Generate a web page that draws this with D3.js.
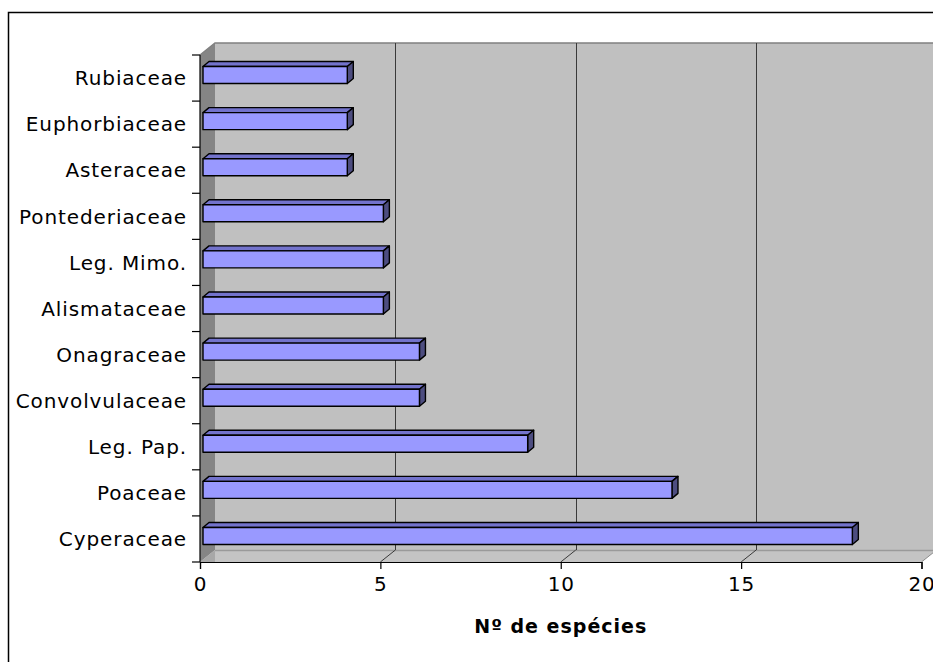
<!DOCTYPE html>
<html>
<head>
<meta charset="utf-8">
<script src="https://cdn.jsdelivr.net/npm/d3@7"></script>
<style>
  html, body { margin: 0; padding: 0; background: #fff; overflow: hidden; }
  svg { display: block; }
  text { font-family: "DejaVu Sans", Verdana, sans-serif; fill: #000; }
</style>
</head>
<body>
<svg id="chart" width="933" height="662"></svg>
<script>
// Families, listed bottom to top of the chart
const families = ["Cyperaceae", "Poaceae", "Leg. Pap.", "Convolvulaceae", "Onagraceae",
  "Alismataceae", "Leg. Mimo.", "Pontederiaceae", "Asteraceae", "Euphorbiaceae", "Rubiaceae"];
// Number of species per family
const species = [18, 13, 9, 6, 6, 5, 5, 5, 4, 4, 4];
// Value axis ticks
const xTicks = [0, 5, 10, 15, 20];
const xTitle = "Nº de espécies";

const svg = d3.select("#chart");

const x = d3.scaleLinear().domain([0, 20]).range([200, 921.5]);
const y = d3.scaleBand().domain(families.slice().reverse()).range([55, 562]).paddingInner(0).paddingOuter(0);

// wall depth offset and bar depth offset
const DX = 15, DY = -12;
const BX = 6, BY = -5;
const barH = 17;
const y0 = y.range()[0], y1 = y.range()[1];

// outer frame
svg.append("rect").attr("x", 8.5).attr("y", 12.5).attr("width", 1200).attr("height", 1200)
  .attr("fill", "none").attr("stroke", "#000").attr("stroke-width", 1.5);

// back wall
svg.append("rect").attr("x", x(0) + DX).attr("y", y0 + DY)
  .attr("width", x(20) - x(0) + 20).attr("height", y1 - y0)
  .attr("fill", "#c0c0c0");
// floor
svg.append("path")
  .attr("d", `M${x(0)},${y1} L${x(0) + DX},${y1 + DY} L${x(20) + DX},${y1 + DY} L${x(20)},${y1} Z`)
  .attr("fill", "#c4c4c4");
svg.append("line").attr("x1", x(0) + DX).attr("x2", x(20) + DX + 10)
  .attr("y1", y1 + DY + 0.5).attr("y2", y1 + DY + 0.5).attr("stroke", "#9a9a9a").attr("stroke-width", 1.5);
// side wall
svg.append("path")
  .attr("d", `M${x(0)},${y0} L${x(0) + DX},${y0 + DY} L${x(0) + DX},${y1 + DY} L${x(0)},${y1} Z`)
  .attr("fill", "#858585");
// floor corner under the side wall
svg.append("path")
  .attr("d", `M${x(0)},${y1} L${x(0) + DX},${y1 + DY} L${x(0) + DX},${y1} Z`)
  .attr("fill", "#a8a8a8");
// wall top edge
svg.append("path")
  .attr("d", `M${x(0)},${y0} L${x(0) + DX},${y0 + DY} L${x(20) + DX + 20},${y0 + DY}`)
  .attr("fill", "none").attr("stroke", "#808080").attr("stroke-width", 1.5);

// gridlines on back wall and floor
const grid = svg.append("g").attr("stroke", "#3a3a3a").attr("stroke-width", 1).attr("fill", "none");
xTicks.filter(v => v > 0).forEach(v => {
  const gx = Math.round(x(v) + DX) + 0.5;
  if (v < 20) {
    grid.append("line").attr("x1", gx).attr("x2", gx).attr("y1", y0 + DY).attr("y2", y1 + DY);
  }
  grid.append("line").attr("x1", x(v)).attr("y1", y1).attr("x2", x(v) + DX).attr("y2", y1 + DY)
    .attr("stroke", v < 20 ? "#3a3a3a" : "#8a8a8a");
});

// bars: front, top and end faces
const bars = svg.append("g").attr("stroke", "#000").attr("stroke-width", 1.4).attr("stroke-linejoin", "round");
families.forEach((f, i) => {
  const v = species[i];
  const cy = y(f) + y.bandwidth() / 2 - 3;
  const xl = x(0) + 3, xr = x(v) + 3;
  const yt = cy - barH / 2, yb = cy + barH / 2;
  bars.append("path")
    .attr("d", `M${xl},${yt} L${xl + BX},${yt + BY} L${xr + BX},${yt + BY} L${xr},${yt} Z`)
    .attr("fill", "#7373cc");
  bars.append("path")
    .attr("d", `M${xr},${yt} L${xr + BX},${yt + BY} L${xr + BX},${yb + BY} L${xr},${yb} Z`)
    .attr("fill", "#4d4d80");
  bars.append("rect").attr("x", xl).attr("y", yt).attr("width", xr - xl).attr("height", barH)
    .attr("fill", "#9999ff");
});

// value axis
const xAxis = svg.append("g").attr("transform", `translate(0,${y1})`)
  .call(d3.axisBottom(x).tickValues(xTicks).tickSize(7).tickPadding(8).tickFormat(d3.format("d")));
xAxis.select(".domain").attr("stroke", "#000").attr("stroke-width", 1.2);
xAxis.selectAll(".tick line").attr("stroke", "#000").attr("stroke-width", 1.2);
xAxis.selectAll("text").attr("font-size", 20).attr("font-family", "DejaVu Sans").attr("fill", "#000")
  .attr("letter-spacing", 0.9);

// category axis
const yAxis = svg.append("g").attr("transform", `translate(${x(0)},0)`);
yAxis.append("line").attr("x1", 0).attr("x2", 0).attr("y1", y0).attr("y2", y1)
  .attr("stroke", "#000").attr("stroke-width", 1.2);
const bounds = families.map(f => y(f)).concat([y1]);
yAxis.selectAll("line.tk").data(bounds).join("line").attr("class", "tk")
  .attr("x1", -8).attr("x2", 0).attr("y1", d => d).attr("y2", d => d)
  .attr("stroke", "#000").attr("stroke-width", 1.2);
yAxis.selectAll("text").data(families).join("text")
  .attr("x", -13).attr("y", f => y(f) + y.bandwidth() / 2)
  .attr("dy", "0.36em").attr("text-anchor", "end")
  .attr("font-size", 20).attr("letter-spacing", 0.9)
  .text(f => f);

// axis title
svg.append("text").attr("x", (x(0) + x(20)) / 2).attr("y", 633)
  .attr("text-anchor", "middle").attr("font-size", 19).attr("font-weight", "bold")
  .attr("letter-spacing", 1)
  .text(xTitle);
</script>
</body>
</html>
